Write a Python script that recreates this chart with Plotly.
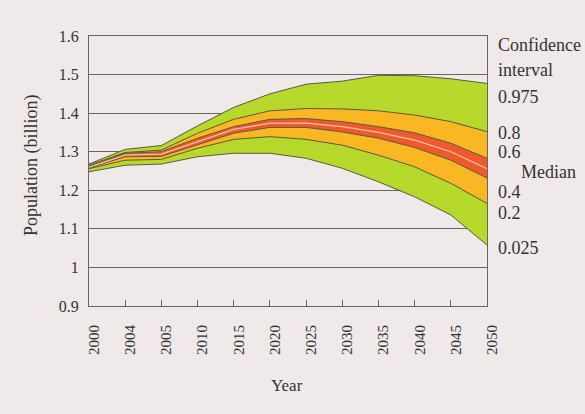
import plotly.graph_objects as go

years = ["2000", "2004", "2005", "2010", "2015", "2020", "2025", "2030", "2035", "2040", "2045", "2050"]
q975 = [1.268, 1.306, 1.316, 1.367, 1.415, 1.450, 1.475, 1.483, 1.498, 1.497, 1.489, 1.477]
q800 = [1.265, 1.298, 1.304, 1.348, 1.384, 1.406, 1.412, 1.411, 1.406, 1.395, 1.378, 1.352]
q600 = [1.263, 1.296, 1.300, 1.335, 1.365, 1.384, 1.386, 1.378, 1.365, 1.349, 1.322, 1.283]
median = [1.260, 1.291, 1.294, 1.326, 1.358, 1.374, 1.374, 1.365, 1.350, 1.330, 1.300, 1.256]
q400 = [1.258, 1.287, 1.288, 1.317, 1.348, 1.363, 1.363, 1.351, 1.335, 1.311, 1.278, 1.232]
q200 = [1.256, 1.278, 1.280, 1.309, 1.332, 1.339, 1.332, 1.317, 1.291, 1.261, 1.218, 1.166]
q025 = [1.248, 1.265, 1.268, 1.287, 1.296, 1.296, 1.283, 1.257, 1.222, 1.183, 1.136, 1.058]

labels = ["Confidence", "interval", "0.975", "0.8", "0.6", "Median", "0.4", "0.2", "0.025"]
label_y = [1.577, 1.512, 1.442, 1.349, 1.299, 1.247, 1.196, 1.141, 1.050]

BG = "#efe9ea"
EDGE = "#5b5a40"
GREEN = "#b6d92c"
ORANGE = "#f9b823"
RED = "#ee5a2b"
MED = "#f6c2a8"
TXT = "#333333"
FONT = "Liberation Serif"

fig = go.Figure()

def band(lo, hi, color):
    fig.add_trace(go.Scatter(x=years, y=lo, mode="lines", line=dict(color=EDGE, width=1),
                             showlegend=False, hoverinfo="skip"))
    fig.add_trace(go.Scatter(x=years, y=hi, mode="lines", line=dict(color=EDGE, width=1),
                             fill="tonexty", fillcolor=color, showlegend=False, hoverinfo="skip"))

band(q025, q975, GREEN)
band(q200, q800, ORANGE)
band(q400, q600, RED)
fig.add_trace(go.Scatter(x=years, y=median, mode="lines", line=dict(color=MED, width=1.2),
                         showlegend=False, hoverinfo="skip"))

for t, yv in zip(labels, label_y):
    xs = 1.0804 if t == "Median" else 1.0226
    fig.add_annotation(x=xs, y=yv, xref="paper", yref="y", text=t, showarrow=False,
                       xanchor="left", yanchor="middle",
                       font=dict(family=FONT, size=18, color=TXT))

fig.add_annotation(x=-0.1457, y=0.522, xref="paper", yref="paper", text="Population (billion)",
                   textangle=-90, showarrow=False, xanchor="center", yanchor="middle",
                   font=dict(family=FONT, size=18, color=TXT))
fig.add_annotation(x=0.497, y=-0.2926, xref="paper", yref="paper", text="Year",
                   showarrow=False, xanchor="center", yanchor="middle",
                   font=dict(family=FONT, size=17, color=TXT))

fig.update_layout(
    width=585, height=414,
    margin=dict(l=89, r=98, t=36, b=108),
    paper_bgcolor=BG, plot_bgcolor=BG,
    font=dict(family=FONT, size=15, color=TXT),
    xaxis=dict(type="category", range=[0, 11], showgrid=False, automargin=False,
               showline=True, linecolor="#666", linewidth=1, mirror=True,
               ticks="inside", ticklen=6, tickcolor="#666", tickangle=-90,
               ticklabelstandoff=12, ticklabelshift=5,
               tickfont=dict(size=15)),
    yaxis=dict(range=[0.9, 1.6], tickvals=[0.9, 1.0, 1.1, 1.2, 1.3, 1.4, 1.5, 1.6],
               ticktext=["0.9", "1", "1.1", "1.2", "1.3", "1.4", "1.5", "1.6"],
               showgrid=True, gridcolor="#666", gridwidth=1, automargin=False,
               showline=True, linecolor="#666", linewidth=1, mirror=True,
               ticks="", zeroline=False, ticklabelstandoff=6,
               tickfont=dict(size=16)),
)

fig.write_html("out.html", config={"displayModeBar": False},
               post_script="document.body.style.margin='0';document.body.style.background='" + BG + "';")
